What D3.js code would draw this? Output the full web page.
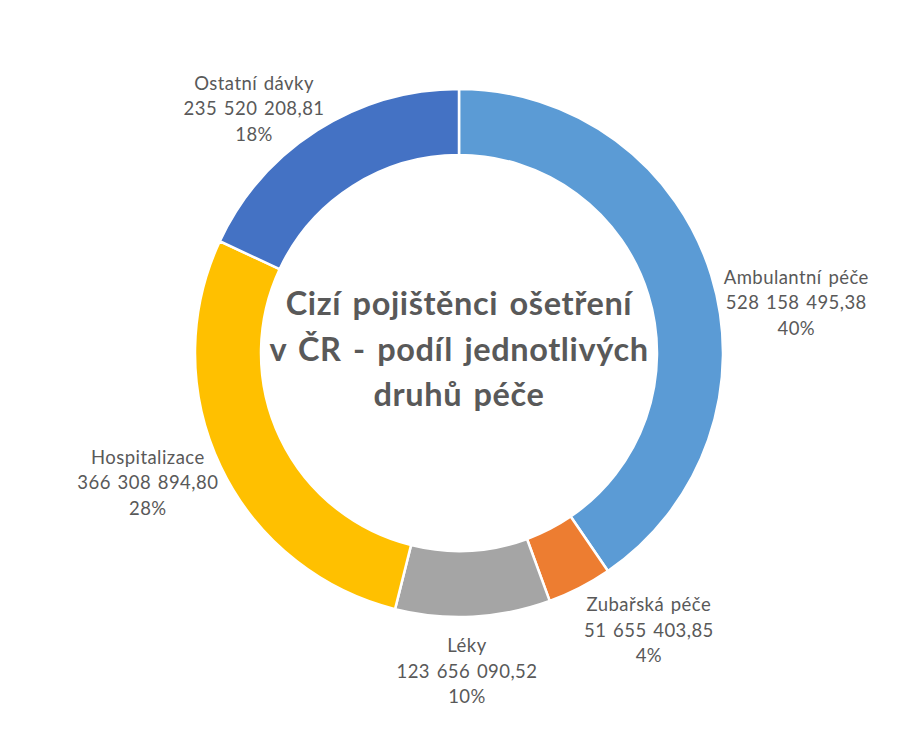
<!DOCTYPE html>
<html>
<head>
<meta charset="utf-8">
<script src="https://cdn.jsdelivr.net/npm/d3@7"></script>
<style>
  html, body { margin: 0; padding: 0; background: #ffffff; }
  svg { display: block; }
</style>
</head>
<body>
<svg id="chart" width="905" height="735"></svg>
<script>
// ---- data ----
const categories = ["Ambulantní péče", "Zubařská péče", "Léky", "Hospitalizace", "Ostatní dávky"];
const values = [528158495.38, 51655403.85, 123656090.52, 366308894.80, 235520208.81];
const titleLines = ["Cizí pojištěnci ošetření", "v ČR - podíl jednotlivých", "druhů péče"];

// ---- styling / layout ----
const colors = ["#5B9BD5", "#ED7D31", "#A5A5A5", "#FFC000", "#4472C4"];
// label placement: angle nudge (deg) from slice mid-angle, distance from centre (px)
const labelNudgeDeg = [8.7, -7.2, 1.6, 2.9, -7.5];
const labelDist = [341, 336, 318, 337, 319];

const W = 905, H = 735;
const cx = 459, cy = 353;
const outerR = 264, innerR = 198;
const textColor = "#595959";
const font = "Lato, 'Open Sans', sans-serif";
const labelSize = 18.5, labelLine = 25.5;
const titleSize = 32.5, titleLine = 45.5;

const svg = d3.select("#chart");
const g = svg.append("g").attr("transform", `translate(${cx},${cy})`);

const data = categories.map((c, i) => ({ name: c, value: values[i], color: colors[i], i }));
const total = d3.sum(values);

// percentages rounded so that they sum to 100 (largest remainder)
const rawPct = values.map(v => v / total * 100);
const pct = rawPct.map(Math.floor);
let rest = 100 - d3.sum(pct);
rawPct.map((p, i) => ({ i, r: p - Math.floor(p) }))
  .sort((a, b) => b.r - a.r)
  .slice(0, rest)
  .forEach(o => pct[o.i] += 1);

const pie = d3.pie().value(d => d.value).sort(null).startAngle(0).endAngle(2 * Math.PI);
const arcs = pie(data);
const arc = d3.arc().innerRadius(innerR).outerRadius(outerR);

g.selectAll("path.slice")
  .data(arcs)
  .join("path")
  .attr("class", "slice")
  .attr("d", arc)
  .attr("fill", d => d.data.color)
  .attr("stroke", "#ffffff")
  .attr("stroke-width", 2.5);

// number format (Czech)
const cz = d3.formatLocale({ decimal: ",", thousands: " ", grouping: [3], currency: ["", " Kč"] });
const fmtNum = cz.format(",.2f");

// labels
const lbl = g.selectAll("g.label")
  .data(arcs)
  .join("g")
  .attr("class", "label")
  .attr("transform", d => {
    const mid = (d.startAngle + d.endAngle) / 2 + labelNudgeDeg[d.data.i] * Math.PI / 180;
    const r = labelDist[d.data.i];
    return `translate(${r * Math.sin(mid)},${-r * Math.cos(mid)})`;
  });

lbl.each(function (d) {
  const lines = [d.data.name, fmtNum(d.data.value), pct[d.data.i] + "%"];
  const sel = d3.select(this);
  lines.forEach((t, k) => {
    sel.append("text")
      .attr("x", 0)
      .attr("y", (k - 1) * labelLine + 0.36 * labelSize)
      .attr("text-anchor", "middle")
      .attr("font-family", font)
      .attr("font-size", labelSize)
      .attr("letter-spacing", 0.45)
      .attr("word-spacing", 1.5)
      .attr("fill", textColor)
      .text(t);
  });
});

// title in the centre
const titleCenterY = 349 - cy;
titleLines.forEach((t, k) => {
  g.append("text")
    .attr("x", 0)
    .attr("y", titleCenterY + (k - 1) * titleLine + 0.36 * titleSize)
    .attr("text-anchor", "middle")
    .attr("font-family", font)
    .attr("font-weight", "bold")
    .attr("font-size", titleSize)
    .attr("letter-spacing", 0.6)
    .attr("word-spacing", 3)
    .attr("fill", textColor)
    .text(t);
});
</script>
</body>
</html>
